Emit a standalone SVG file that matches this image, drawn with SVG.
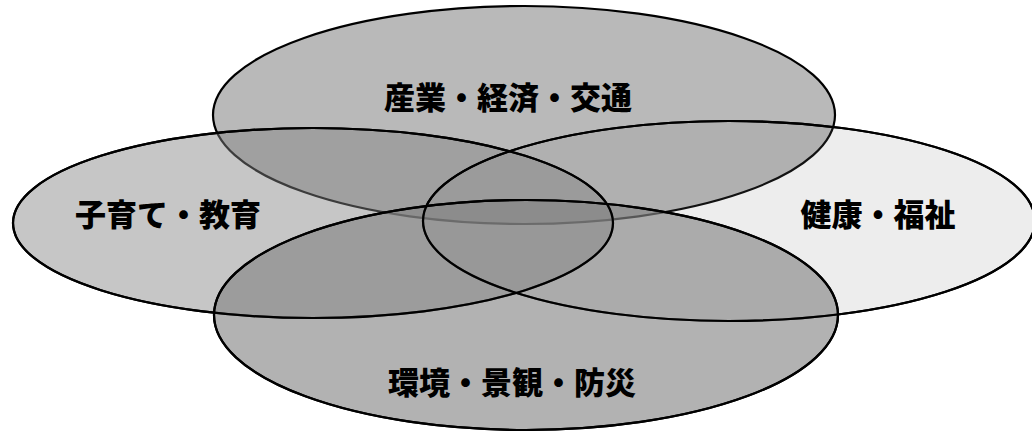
<svg xmlns="http://www.w3.org/2000/svg" xmlns:xlink="http://www.w3.org/1999/xlink" width="1032" height="433" viewBox="0 0 1032 433">
<style>
.f{fill:#828282;stroke:#000;stroke-width:2.2}
.o{fill:none;stroke:#000;stroke-width:2.2}
.t{font-family:"Noto Sans CJK JP","Noto Sans CJK SC",sans-serif;font-weight:900;font-size:31px;fill:#000;text-anchor:middle;dominant-baseline:central}
</style>
<defs>
<ellipse id="es" cx="524" cy="115" rx="311" ry="109"/>
<ellipse id="ek" cx="313" cy="223" rx="300" ry="95"/>
<ellipse id="eh" cx="729" cy="221" rx="306" ry="100"/>
<ellipse id="ee" cx="526" cy="315" rx="312" ry="115"/>
</defs>
<rect width="1032" height="433" fill="#fff"/>
<g id="sangyo">
<use href="#es" xlink:href="#es" class="f" fill-opacity="0.56"/>
<text class="t" x="508" y="95">産業・経済・交通</text>
</g>
<g id="kosodate">
<use href="#ek" xlink:href="#ek" class="f" fill-opacity="0.46"/>
<text class="t" x="168" y="212">子育て・教育</text>
</g>
<g id="kenko">
<use href="#eh" xlink:href="#eh" class="f" fill-opacity="0.14"/>
<text class="t" x="878" y="212">健康・福祉</text>
</g>
<g id="kankyo">
<use href="#ee" xlink:href="#ee" class="f" fill-opacity="0.62"/>
<text class="t" x="512" y="380">環境・景観・防災</text>
</g>
<g id="outlines">
<use href="#ek" xlink:href="#ek" class="o"/>
<use href="#eh" xlink:href="#eh" class="o"/>
<use href="#ee" xlink:href="#ee" class="o"/>
</g>
<g id="connectors"></g>
</svg>
